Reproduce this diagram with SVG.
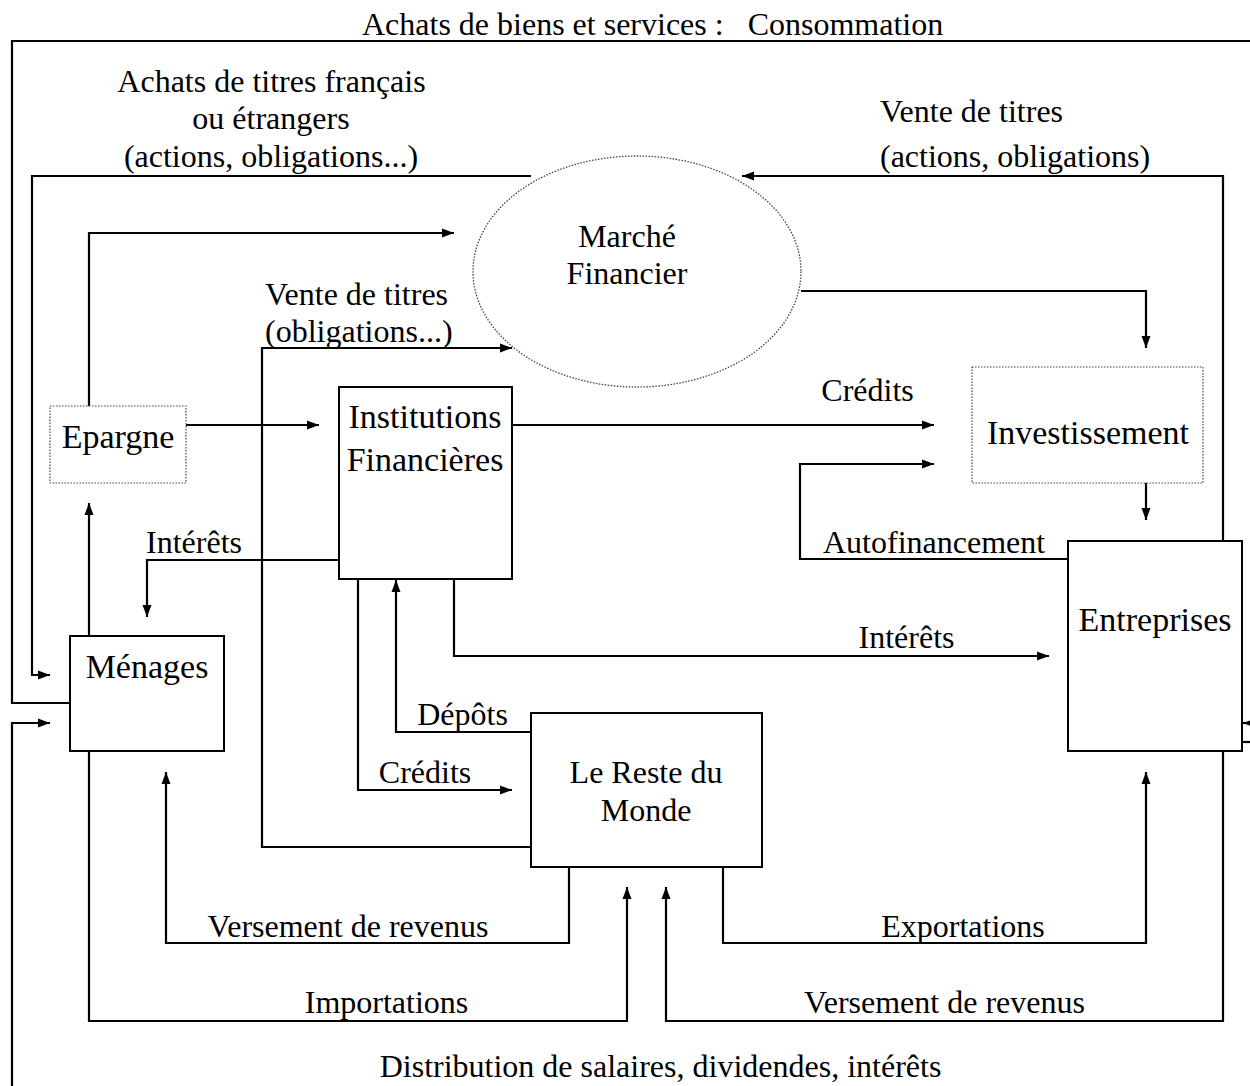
<svg xmlns="http://www.w3.org/2000/svg" width="1250" height="1086" viewBox="0 0 1250 1086">
<style>
text{font-family:"Liberation Serif","Times New Roman",serif;fill:#000}
.lbl{font-size:32px}
.nd{font-size:34px}
.c{text-anchor:middle}
.box{fill:#fff;stroke:#000;stroke-width:2}
.dot{fill:#fff;stroke:#444;stroke-width:1.2;stroke-dasharray:1.5 1.5}
.ln{fill:none;stroke:#000;stroke-width:2.2}
.arr{fill:none;stroke:#000;stroke-width:2.2;marker-end:url(#ah)}
</style>
<defs>
<marker id="ah" markerUnits="userSpaceOnUse" markerWidth="13" markerHeight="10" refX="12" refY="5" orient="auto">
<path d="M0,0.5 L12,5 L0,9.5 z" fill="#000"/>
</marker>
</defs>
<rect width="1250" height="1086" fill="#fff"/>
<g id="connectors">
<path class="ln" d="M1262 41 H12 V703 H70"/>
<path class="arr" d="M1262 723 H1243"/>
<path class="ln" d="M1242 742 H1262"/>
<path class="arr" d="M12 1090 V723 H50"/>
<path class="arr" d="M531 176 H32 V675 H50"/>
<path class="arr" d="M1223 541 V176 H742"/>
<path class="arr" d="M801 291 H1146 V348"/>
<path class="arr" d="M89 406 V233 H454"/>
<path class="arr" d="M531 847 H262 V348 H512"/>
<path class="arr" d="M186 425 H319"/>
<path class="arr" d="M512 425 H934"/>
<path class="arr" d="M1068 559 H800 V464 H934"/>
<path class="arr" d="M1146 483 V520"/>
<path class="arr" d="M339 560 H147 V617"/>
<path class="arr" d="M89 636 V503"/>
<path class="arr" d="M454 579 V656 H1049"/>
<path class="arr" d="M531 732 H396 V580"/>
<path class="arr" d="M358 579 V790 H512"/>
<path class="arr" d="M569 867 V943 H166 V772"/>
<path class="arr" d="M89 751 V1021 H627 V887"/>
<path class="arr" d="M723 867 V943 H1146 V772"/>
<path class="arr" d="M1223 751 V1021 H666 V887"/>
</g>
<g id="marche">
<ellipse cx="637" cy="271.5" rx="164" ry="115.5" fill="none" stroke="#444" stroke-width="1.3" stroke-dasharray="1.5 1.5"/>
<text class="lbl c" x="627" y="247">Marché</text>
<text class="lbl c" x="627" y="284">Financier</text>
</g>
<g id="epargne">
<rect class="dot" x="50" y="406" width="136" height="77"/>
<text class="nd c" x="118" y="448">Epargne</text>
</g>
<g id="institutions">
<rect class="box" x="339" y="387" width="173" height="192"/>
<text class="nd c" x="425" y="428">Institutions</text>
<text class="nd c" x="425" y="471">Financières</text>
</g>
<g id="investissement">
<rect class="dot" x="972" y="367" width="231" height="116"/>
<text class="nd c" x="1088" y="444">Investissement</text>
</g>
<g id="entreprises">
<rect class="box" x="1068" y="541" width="174" height="210"/>
<text class="nd c" x="1155" y="631">Entreprises</text>
</g>
<g id="menages">
<rect class="box" x="70" y="636" width="154" height="115"/>
<text class="nd c" x="147" y="678">Ménages</text>
</g>
<g id="reste-du-monde">
<rect class="box" x="531" y="713" width="231" height="154"/>
<text class="lbl c" x="646" y="783">Le Reste du</text>
<text class="lbl c" x="646" y="821">Monde</text>
</g>
<g id="labels">
<text class="lbl" x="362" y="35" xml:space="preserve" style="white-space:pre">Achats de biens et services :   Consommation</text>
<text class="lbl c" x="271.5" y="92">Achats de titres français</text>
<text class="lbl c" x="271" y="129">ou étrangers</text>
<text class="lbl c" x="271" y="167">(actions, obligations...)</text>
<text class="lbl" x="880" y="122">Vente de titres</text>
<text class="lbl" x="880" y="167">(actions, obligations)</text>
<text class="lbl" x="265" y="305">Vente de titres</text>
<text class="lbl" x="265" y="342">(obligations...)</text>
<text class="lbl c" x="867.5" y="401">Crédits</text>
<text class="lbl" x="823" y="553">Autofinancement</text>
<text class="lbl c" x="906.5" y="648">Intérêts</text>
<text class="lbl c" x="194" y="553">Intérêts</text>
<text class="lbl c" x="462.5" y="725">Dépôts</text>
<text class="lbl c" x="425" y="783">Crédits</text>
<text class="lbl c" x="348" y="937">Versement de revenus</text>
<text class="lbl c" x="963" y="937">Exportations</text>
<text class="lbl c" x="386.5" y="1013">Importations</text>
<text class="lbl c" x="944.5" y="1013">Versement de revenus</text>
<text class="lbl c" x="660.5" y="1077">Distribution de salaires, dividendes, intérêts</text>
</g>
</svg>
